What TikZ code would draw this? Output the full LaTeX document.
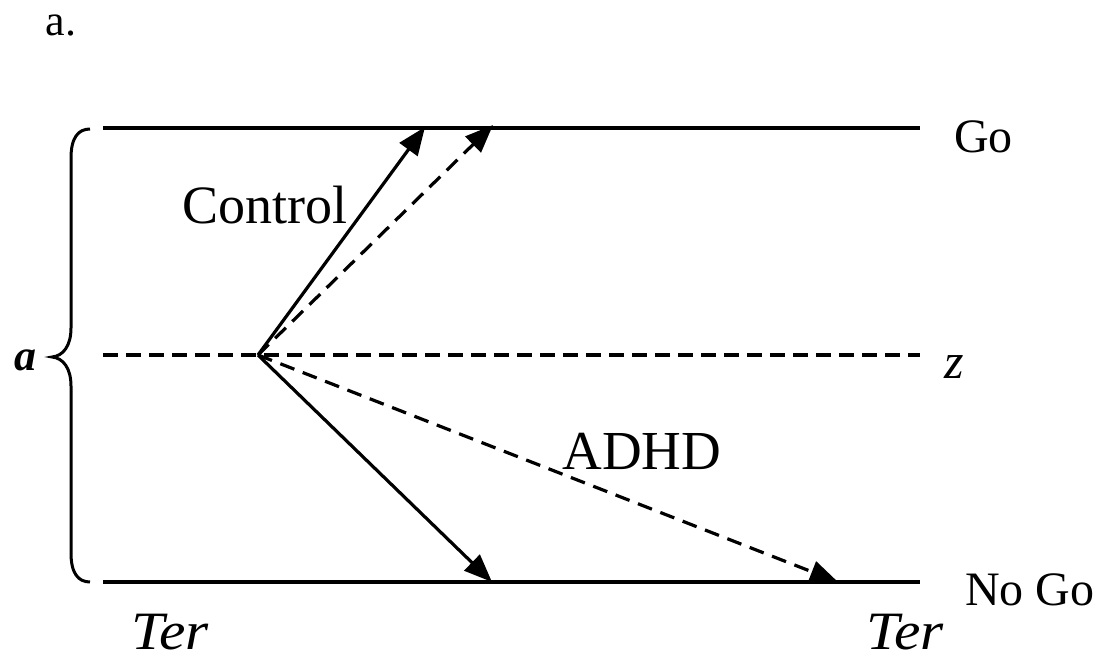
\documentclass[tikz,border=0pt]{standalone}
\usepackage{fontspec}
\setmainfont{Liberation Serif}
\usetikzlibrary{arrows.meta}
\begin{document}
\begin{tikzpicture}[x=1pt,y=-1pt,
  bound/.style={line width=3.8pt},
  dline/.style={line width=3.6pt,dash pattern=on 15pt off 8pt},
  arr/.style={line width=3.2pt,-{Triangle[length=28pt,width=22pt]}},
  darr/.style={arr,dash pattern=on 15pt off 9pt},
  lbl/.style={inner sep=0pt,font=\fontsize{50}{54}\selectfont}]
\useasboundingbox (0,0) rectangle (1107,660);
% boundaries
\coordinate (goL) at (103,128); \coordinate (goR) at (920,128);
\coordinate (zL) at (103,355); \coordinate (zR) at (920,355);
\coordinate (ngL) at (103,582); \coordinate (ngR) at (920,582);
\draw[bound] (goL) -- (goR);
\draw[dline] (zL) -- (zR);
\draw[bound] (ngL) -- (ngR);
% brace
\draw[line width=3pt] (90,129) .. controls (78,129) and (71,138) .. (71,158) -- (71,328)
  .. controls (71,346) and (63,356) .. (52,357)
  .. controls (63,358) and (71,368) .. (71,386) -- (71,553)
  .. controls (71,573) and (78,582) .. (90,582);
% arrows
\coordinate (s) at (258,355);
\coordinate (cgo) at (425,127);
\coordinate (ago) at (493,125);
\coordinate (cng) at (492,582);
\coordinate (ang) at (838,582);
\draw[arr] (s) -- (cgo);
\draw[darr] (s) -- (ago);
\draw[arr] (s) -- (cng);
\draw[darr] (s) -- (ang);
% labels
\node[lbl,font=\fontsize{44}{48}\selectfont,anchor=base] (title) at (61,36) {a.};
\node[lbl,font=\fontsize{54}{58}\selectfont] (ctl) at (265,205) {Control};
\node[lbl,font=\fontsize{55}{58}\selectfont] (adhd) at (642,451) {ADHD};
\node[lbl,anchor=west,font=\fontsize{48}{52}\selectfont] (go) at (954,137) {Go};
\node[lbl,anchor=west] (z) at (944,367) {\itshape z};
\node[lbl,anchor=west,font=\fontsize{48}{52}\selectfont] (ng) at (965,590) {No Go};
\node[lbl,font=\fontsize{44}{48}\selectfont,anchor=base] (a) at (25,370) {\bfseries\itshape a};
\node[lbl,font=\fontsize{54}{58}\selectfont,xscale=1.1,anchor=base] (ter1) at (170,649) {\itshape Ter};
\node[lbl,font=\fontsize{54}{58}\selectfont,xscale=1.1,anchor=base] (ter2) at (905,649) {\itshape Ter};
\end{tikzpicture}
\end{document}
